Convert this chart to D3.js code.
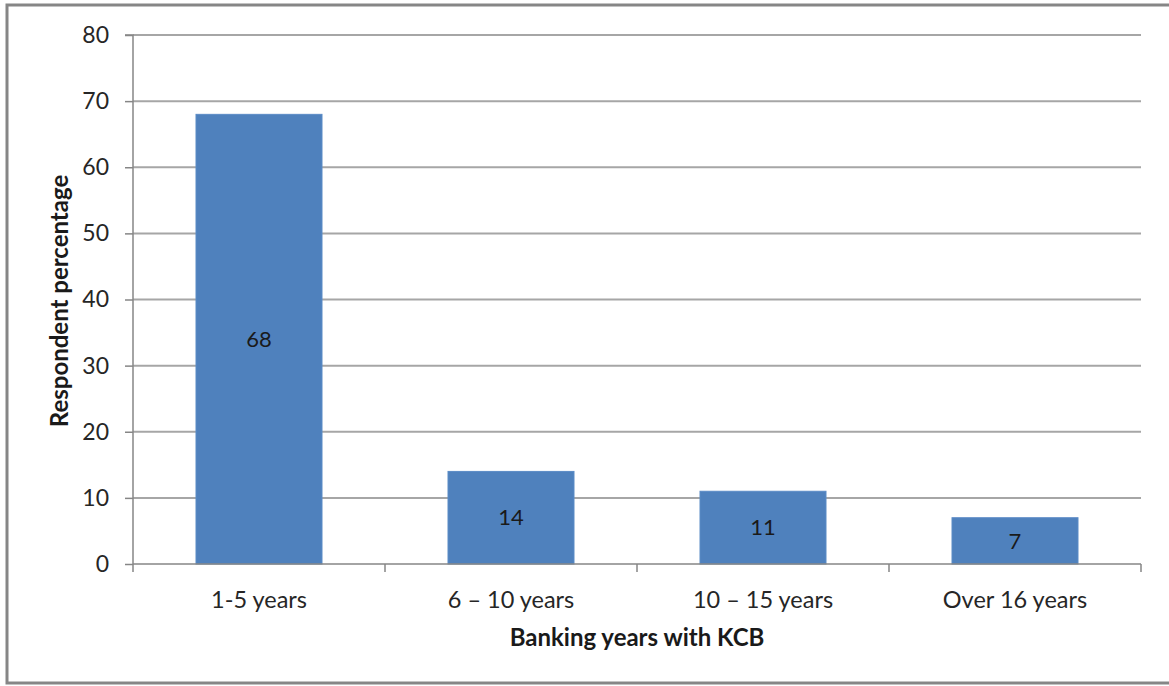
<!DOCTYPE html>
<html><head><meta charset="utf-8">
<script src="https://cdn.jsdelivr.net/npm/d3@7"></script>
<style>
body{margin:0;background:#fff;}
svg{display:block;font-family:Lato,"Open Sans",sans-serif;}
</style></head>
<body>
<svg id="chart" width="1169" height="686"></svg>
<script>
const categories = ["1-5 years", "6 \u2013 10 years", "10 \u2013 15 years", "Over 16 years"];
const values = [68, 14, 11, 7];
const yTicks = [0, 10, 20, 30, 40, 50, 60, 70, 80];
const xTitle = "Banking years with KCB";
const yTitle = "Respondent percentage";

const svg = d3.select("#chart");
const m = {left:133, right:1141, top:35, bottom:564};

// outer frame
svg.append("rect").attr("x",7).attr("y",5).attr("width",1180).attr("height",678)
  .attr("fill","#fff").attr("stroke","#868686").attr("stroke-width",3);

const x = d3.scaleBand().domain(categories).range([m.left, m.right]).paddingInner(0.5).paddingOuter(0.25);
const y = d3.scaleLinear().domain([0,80]).range([m.bottom, m.top]);

// gridlines
svg.append("g").selectAll("line").data(yTicks.filter(d=>d>0)).join("line")
  .attr("x1",m.left).attr("x2",m.right).attr("y1",d=>y(d)).attr("y2",d=>y(d))
  .attr("stroke","#a6a6a6").attr("stroke-width",2);

// bars
svg.append("g").selectAll("rect").data(values).join("rect")
  .attr("x",(d,i)=>x(categories[i])).attr("width",x.bandwidth())
  .attr("y",d=>y(d)).attr("height",d=>y(0)-y(d))
  .attr("fill","#4f81bd").attr("stroke","#5b8bc6").attr("stroke-width",1);

// y axis
const yAxis = d3.axisLeft(y).tickValues(yTicks).tickSize(8).tickPadding(16);
const gy = svg.append("g").attr("transform",`translate(${m.left},0)`).call(yAxis);
gy.select(".domain").attr("stroke","#868686").attr("stroke-width",1.5).attr("d",`M-8,${m.top}H0V${m.bottom}`);
gy.selectAll(".tick line").attr("stroke","#868686").attr("stroke-width",1.5);
gy.selectAll("text").attr("font-size",23).attr("fill","#262626").attr("font-family","Lato,'Open Sans',sans-serif");

// x axis
const xb = d3.scaleLinear().domain([0,4]).range([m.left,m.right]);
const gx = svg.append("g");
gx.append("line").attr("x1",m.left).attr("x2",m.right).attr("y1",m.bottom).attr("y2",m.bottom)
  .attr("stroke","#868686").attr("stroke-width",1.5);
gx.selectAll("line.tk").data(d3.range(5)).join("line").attr("class","tk")
  .attr("x1",d=>xb(d)).attr("x2",d=>xb(d)).attr("y1",m.bottom).attr("y2",m.bottom+8)
  .attr("stroke","#868686").attr("stroke-width",1.5);
gx.selectAll("text").data(categories).join("text")
  .attr("x",d=>x(d)+x.bandwidth()/2).attr("y",608)
  .attr("text-anchor","middle").attr("font-size",23.5).attr("fill","#262626").text(d=>d);

// data labels
svg.append("g").selectAll("text").data(values).join("text")
  .attr("x",(d,i)=>x(categories[i])+x.bandwidth()/2).attr("y",d=>(y(d)+y(0))/2)
  .attr("dy","0.35em").attr("text-anchor","middle").attr("font-size",22).attr("fill","#1a1a1a").text(d=>d);

// titles
svg.append("text").attr("x",637).attr("y",646).attr("text-anchor","middle")
  .attr("font-size",24).attr("font-weight","bold").attr("fill","#1a1a1a").text(xTitle);
svg.append("text").attr("transform","translate(68,301) rotate(-90)").attr("text-anchor","middle")
  .attr("font-size",24).attr("font-weight","bold").attr("fill","#1a1a1a").text(yTitle);
</script>
</body></html>
